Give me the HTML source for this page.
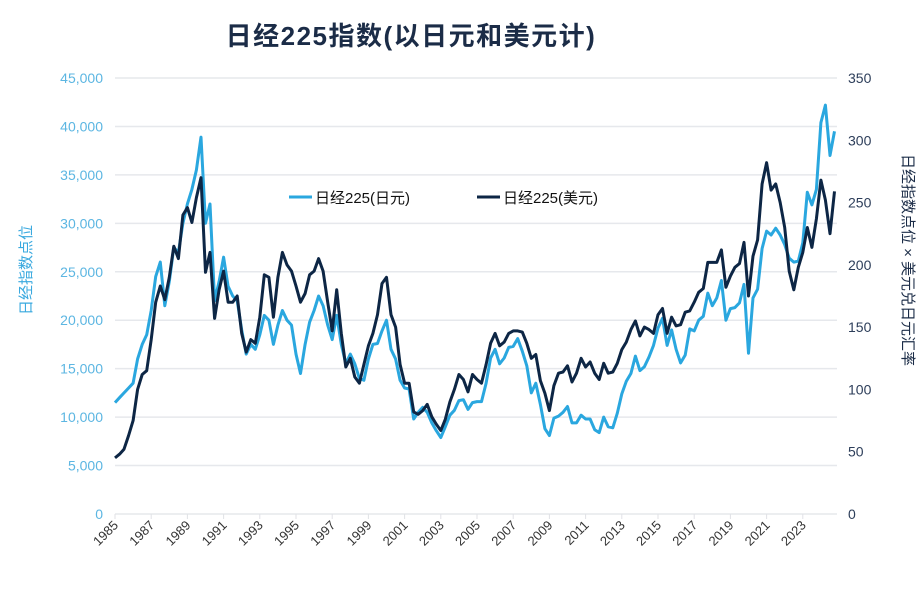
<!DOCTYPE html>
<html><head><meta charset="utf-8"><style>
html,body{margin:0;padding:0;background:#fff;}
svg text{font-family:"Liberation Sans","Noto Sans CJK SC",sans-serif;}
</style></head><body>
<svg id="chart" width="923" height="584" viewBox="0 0 923 584" xmlns="http://www.w3.org/2000/svg">
<text x="411" y="45" text-anchor="middle" font-size="26" font-weight="bold" letter-spacing="1.5" fill="#1b2c47">日经225指数(以日元和美元计)</text>
<g id="grid"></g>
<g id="lticks"></g>
<g id="rticks"></g>
<g id="xticks"></g>
<text transform="translate(31,270) rotate(-90)" text-anchor="middle" font-size="15" fill="#3aa9df">日经指数点位</text>
<text transform="translate(903,260) rotate(90)" text-anchor="middle" font-size="15" fill="#1b2c47">日经指数点位 × 美元兑日元汇率</text>
<g id="series"></g>
<g>
<line x1="289" y1="197" x2="312" y2="197" stroke="#2aa7df" stroke-width="3"/>
<text x="315" y="203" font-size="15" fill="#111">日经225(日元)</text>
<line x1="477" y1="197" x2="500" y2="197" stroke="#0d2645" stroke-width="3"/>
<text x="503" y="203" font-size="15" fill="#111">日经225(美元)</text>
</g>
</svg>
<script>
const startYear = 1985;
const leftTicks = [0,5000,10000,15000,20000,25000,30000,35000,40000,45000];
const rightTicks = [0,50,100,150,200,250,300,350];
const yearTicks = [1985,1987,1989,1991,1993,1995,1997,1999,2001,2003,2005,2007,2009,2011,2013,2015,2017,2019,2021,2023];
// quarterly, thousands of yen
const jpySeries = [
11.5,12.0,12.5,13.0, 13.5,16.0,17.5,18.5, 21.0,24.5,26.0,21.5, 24.0,27.5,27.0,30.0,
32.0,33.5,35.5,38.9, 30.0,32.0,22.0,24.0, 26.5,23.5,22.5,22.0, 19.0,16.5,17.5,17.0,
18.5,20.5,20.0,17.5, 19.5,21.0,20.0,19.5, 16.5,14.5,17.5,19.8, 21.0,22.5,21.5,19.5,
18.0,20.5,17.5,15.5, 16.5,15.5,14.0,13.8, 16.0,17.5,17.6,18.9, 20.0,17.0,16.0,13.8,
13.0,12.9,9.8,10.5, 11.0,10.5,9.4,8.6, 7.9,9.0,10.2,10.7, 11.7,11.8,10.8,11.5,
11.6,11.6,13.5,16.1, 17.0,15.5,16.1,17.2, 17.3,18.1,16.8,15.3, 12.5,13.5,11.3,8.8,
8.1,9.9,10.1,10.5, 11.1,9.4,9.4,10.2, 9.8,9.8,8.7,8.4, 10.0,9.0,8.9,10.4,
12.4,13.7,14.5,16.3, 14.8,15.2,16.2,17.4, 19.2,20.2,17.4,19.0, 17.0,15.6,16.4,19.1,
18.9,20.0,20.4,22.8, 21.5,22.3,24.1,20.0, 21.2,21.3,21.8,23.7, 16.6,22.3,23.2,27.4,
29.2,28.8,29.5,28.8, 27.8,26.4,26.0,26.1, 28.0,33.2,31.9,33.5, 40.4,42.2,37.0,39.5];
// quarterly, USD-denominated index
const usdSeries = [
45,48,52,63, 75,100,112,115, 140,170,183,172, 190,215,205,240,
246,234,254,270, 194,210,157,180, 195,170,170,175, 145,130,140,137,
158,192,190,158, 190,210,200,195, 183,170,177,192, 195,205,195,170,
147,180,145,118, 125,110,105,120, 135,145,160,185, 190,160,150,120,
105,105,82,80, 83,88,78,72, 67,76,90,100, 112,108,98,112,
108,105,120,137, 145,135,138,145, 147,147,146,137, 125,128,107,97,
83,103,113,114, 119,106,113,125, 118,122,113,108, 121,113,114,121,
132,138,148,155, 143,150,148,145, 160,165,145,158, 151,152,162,163,
170,178,181,202, 202,202,212,182, 191,198,201,218, 175,207,220,265,
282,260,265,250, 230,195,180,198, 210,230,214,237, 268,252,225,259];

const x0=115, pxPerYear=18.1, yBase=514, yTop=78;
const xS = t => x0 + (t - startYear) * pxPerYear;
const yL = v => yBase - v / 45000 * (yBase - yTop);
const yR = v => yBase - v / 350 * (yBase - yTop);
const NS='http://www.w3.org/2000/svg';
function mk(tag, parent, attrs){const e=document.createElementNS(NS,tag);for(const k in attrs)e.setAttribute(k,attrs[k]);parent.appendChild(e);return e;}
const grid=document.getElementById('grid'), lt=document.getElementById('lticks'), rt=document.getElementById('rticks'), xt=document.getElementById('xticks'), ser=document.getElementById('series');
leftTicks.forEach(v=>{
  const y=yL(v);
  const g=mk('line',grid,{x1:115,x2:837,y1:y,y2:y,stroke:'#e6e8ec','stroke-width':1.5});
  
  
  const t=mk('text',lt,{x:103,y:y+5,'text-anchor':'end','font-size':14,fill:'#5cb6e2'});
  t.textContent=v.toLocaleString('en-US');
  
  
});
rightTicks.forEach(v=>{
  const t=mk('text',rt,{x:848,y:yR(v)+5,'font-size':14,fill:'#2d3e5a'});
  t.textContent=v;
  
  
});
yearTicks.forEach(yr=>{
  const x=xS(yr);
  const tk=mk('line',xt,{x1:x,x2:x,y1:514,y2:519,stroke:'#e0e2e6','stroke-width':1});
  
  
  const t=mk('text',xt,{transform:`translate(${x+4},${526}) rotate(-45)`,'text-anchor':'end','font-size':13,fill:'#333'});
  t.textContent=yr;
  
  
});
function path(arr, yf, color, name){
  const d=arr.map((v,i)=>(i?'L':'M')+xS(startYear+i*0.25).toFixed(1)+','+yf(v).toFixed(1)).join('');
  const p=mk('path',ser,{d:d,fill:'none',stroke:color,'stroke-width':3,'stroke-linejoin':'round'});
  
  
}
path(jpySeries, v=>yL(v*1000), '#2aa7df', 'line-nikkei-jpy');
path(usdSeries, yR, '#0d2645', 'line-nikkei-usd');
</script>
</body></html>
